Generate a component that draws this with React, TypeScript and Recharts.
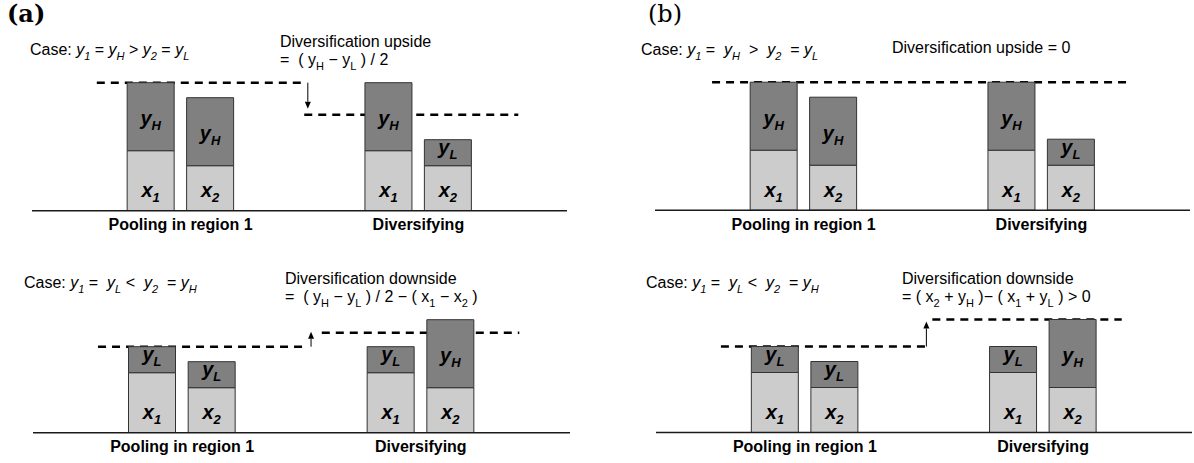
import React from 'react';
import { BarChart, Bar, XAxis, YAxis, ReferenceLine, LabelList } from 'recharts';

const W = 1194;
const H = 463;
const Y_MAX = 140;
const XAXIS_H = 30;
const FONT = '"Liberation Sans", Arial, Helvetica, sans-serif';
const SERIF = '"DejaVu Serif", "Liberation Serif", serif';

// ---- data ----
const barSlots = [2, 3, 6, 7];
const xSubs = ['1', '2', '1', '2'];
const xValues = [60, 45, 60, 45];
const ySubsUpside = ['H', 'H', 'H', 'L'];
const yValuesUpside = [68, 68, 68, 26];
const ySubsDownside = ['L', 'L', 'L', 'H'];
const yValuesDownside = [26, 26, 26, 68];
const groupTicks = [2.5, 6.5];
const groupLabels = ['Pooling in region 1', 'Diversifying'];

// dashed reference levels (from/to in slot units, level in value units)
const dashesAUp = [
  { from: 1.09, to: 4.58, level: 128 },
  { from: 4.58, to: 8.18, level: 96 },
];
const arrowsAUp = [{ at: 4.64, from: 128, to: 102 }];
const dashesADown = [
  { from: 1.09, to: 4.53, level: 86 },
  { from: 4.84, to: 8.15, level: 100 },
];
const arrowsADown = [{ at: 4.66, from: 86, to: 101 }];
const dashesBUp = [{ from: 0.96, to: 8.02, level: 128 }];
const arrowsBUp: { at: number; from: number; to: number }[] = [];
const dashesBDown = [
  { from: 1.09, to: 4.56, level: 86 },
  { from: 4.64, to: 7.82, level: 113 },
];
const arrowsBDown = [{ at: 4.54, from: 86, to: 111 }];

const buildRows = (yv: number[], ys: string[]) =>
  barSlots.map((slot, i) => ({ slot, x: xValues[i], y: yv[i], xs: xSubs[i], ys: ys[i] }));

const getBox = (p: any) => {
  const vb = p.viewBox || {};
  return {
    x: vb.x ?? p.x,
    y: vb.y ?? p.y,
    w: vb.width ?? p.width,
    h: vb.height ?? p.height,
  };
};

const BarLabel = (letter: string, isX: boolean) => (p: any) => {
  const { x, y, w, h } = getBox(p);
  if (x == null || y == null) return null;
  const cx = x + w / 2;
  const base = isX ? y + h - 13.5 : y + 0.67 * h - 3;
  return (
    <text
      x={cx}
      y={base}
      textAnchor="middle"
      fontFamily={FONT}
      fontWeight="bold"
      fontStyle="italic"
      fill="#000"
    >
      <tspan fontSize={20}>{letter}</tspan>
      <tspan fontSize={13} dy={5}>
        {p.value}
      </tspan>
    </text>
  );
};

const ArrowShape = (props: any) => {
  const { x1, y1, x2, y2 } = props;
  const dir = y2 > y1 ? 1 : -1;
  const head = 7;
  return (
    <g>
      <line x1={x1} y1={y1} x2={x2} y2={y2 - dir * head} stroke="#000" strokeWidth={1} />
      <polygon
        points={`${x2},${y2} ${x2 - 3},${y2 - dir * head} ${x2 + 3},${y2 - dir * head}`}
        fill="#000"
      />
    </g>
  );
};

type PanelProps = {
  axisStart: number;
  axisEnd: number;
  baseline: number;
  rows: any[];
  dashes: { from: number; to: number; level: number }[];
  arrows: { at: number; from: number; to: number }[];
};

const Panel = ({ axisStart, axisEnd, baseline, rows, dashes, arrows }: PanelProps) => {
  const margin = {
    top: baseline - Y_MAX,
    left: axisStart,
    right: W - axisEnd,
    bottom: H - baseline - XAXIS_H,
  };
  return (
    <>
      {/* reference lines, underneath the bars */}
      <div style={{ position: 'absolute', left: 0, top: 0 }}>
        <BarChart width={W} height={H} data={rows} margin={margin}>
          <XAxis
            type="number"
            dataKey="slot"
            domain={[0, 9]}
            allowDataOverflow
            tick={false}
            tickLine={false}
            axisLine={false}
            height={XAXIS_H}
          />
          <YAxis type="number" domain={[0, Y_MAX]} hide width={0} allowDataOverflow />
          {dashes.map((d, i) => (
            <ReferenceLine
              key={'d' + i}
              segment={[
                { x: d.from, y: d.level },
                { x: d.to, y: d.level },
              ]}
              stroke="#000"
              strokeWidth={2.6}
              strokeDasharray="8 6"
            />
          ))}
          {arrows.map((a, i) => (
            <ReferenceLine
              key={'a' + i}
              segment={[
                { x: a.at, y: a.from },
                { x: a.at, y: a.to },
              ]}
              stroke="#000"
              shape={ArrowShape}
            />
          ))}
        </BarChart>
      </div>
      {/* bars and axis on top */}
      <div style={{ position: 'absolute', left: 0, top: 0 }}>
        <BarChart width={W} height={H} data={rows} margin={margin}>
          <XAxis
            type="number"
            dataKey="slot"
            domain={[0, 9]}
            ticks={groupTicks}
            interval={0}
            allowDataOverflow
            tickFormatter={(v: number) => groupLabels[groupTicks.indexOf(v)] ?? ''}
            tickLine={false}
            tickSize={0}
            tickMargin={8}
            height={XAXIS_H}
            axisLine={{ stroke: '#1a1a1a', strokeWidth: 1.5 }}
            tick={{ fill: '#000', fontSize: 16, fontWeight: 'bold', fontFamily: FONT }}
          />
          <YAxis type="number" domain={[0, Y_MAX]} hide width={0} allowDataOverflow />
          <Bar
            dataKey="x"
            stackId="s"
            fill="#cccccc"
            stroke="#333333"
            strokeWidth={1}
            barSize={47}
            isAnimationActive={false}
          >
            <LabelList dataKey="xs" content={BarLabel('x', true)} />
          </Bar>
          <Bar
            dataKey="y"
            stackId="s"
            fill="#808080"
            stroke="#333333"
            strokeWidth={1}
            barSize={47}
            isAnimationActive={false}
          >
            <LabelList dataKey="ys" content={BarLabel('y', false)} />
          </Bar>
        </BarChart>
      </div>
    </>
  );
};

type Part = [string, string?];

const Rich = ({
  x,
  y,
  parts,
  size = 16,
  sub = 11,
  subDy = 5,
}: {
  x: number;
  y: number;
  parts: Part[];
  size?: number;
  sub?: number;
  subDy?: number;
}) => {
  let down = false;
  const spans = parts.map(([t, f = ''], k) => {
    const isSub = f.includes('s');
    let dy = 0;
    if (isSub && !down) {
      dy = subDy;
      down = true;
    } else if (!isSub && down) {
      dy = -subDy;
      down = false;
    }
    return (
      <tspan
        key={k}
        dy={dy}
        fontSize={isSub ? sub : size}
        fontStyle={f.includes('i') ? 'italic' : 'normal'}
      >
        {t}
      </tspan>
    );
  });
  return (
    <text x={x} y={y} fontFamily={FONT} fontSize={size} fill="#000" style={{ whiteSpace: 'pre' }}>
      {spans}
    </text>
  );
};

const caseAUp: Part[] = [
  ['Case: '], ['y', 'i'], ['1', 'si'], [' = '], ['y', 'i'], ['H', 'si'], [' > '],
  ['y', 'i'], ['2', 'si'], [' = '], ['y', 'i'], ['L', 'si'],
];
const caseADown: Part[] = [
  ['Case: '], ['y', 'i'], ['1', 'si'], [' =  '], ['y', 'i'], ['L', 'si'], [' <  '],
  ['y', 'i'], ['2', 'si'], ['  = '], ['y', 'i'], ['H', 'si'],
];
const caseBUp: Part[] = [
  ['Case: '], ['y', 'i'], ['1', 'si'], [' =  '], ['y', 'i'], ['H', 'si'], ['  >  '],
  ['y', 'i'], ['2', 'si'], ['  = '], ['y', 'i'], ['L', 'si'],
];
const caseBDown: Part[] = [
  ['Case: '], ['y', 'i'], ['1', 'si'], [' =  '], ['y', 'i'], ['L', 'si'], [' <  '],
  ['y', 'i'], ['2', 'si'], ['  = '], ['y', 'i'], ['H', 'si'],
];
const formulaAUp: Part[] = [['=  ( y'], ['H', 's'], [' \u2212 y'], ['L', 's'], [' ) / 2']];
const formulaADown: Part[] = [
  ['=  ( y'], ['H', 's'], [' \u2212 y'], ['L', 's'], [' ) / 2 \u2212 ( x'], ['1', 's'],
  [' \u2212 x'], ['2', 's'], [' )'],
];
const formulaBDown: Part[] = [
  ['= ( x'], ['2', 's'], [' + y'], ['H', 's'], [' )\u2212 ( x'], ['1', 's'], [' + y'], ['L', 's'],
  [' ) > 0'],
];

const Overlay = () => (
  <svg
    width={W}
    height={H}
    style={{ position: 'absolute', left: 0, top: 0, pointerEvents: 'none' }}
  >
    <text x={7} y={22} fontFamily={SERIF} fontWeight="bold" fontSize={24} fill="#000">
      (a)
    </text>
    <text x={648} y={22} fontFamily={SERIF} fontSize={24} fill="#000">
      (b)
    </text>

    <Rich x={30} y={55} parts={caseAUp} />
    <Rich x={280} y={47} parts={[['Diversification upside']]} />
    <Rich x={280} y={65} parts={formulaAUp} />

    <Rich x={24} y={288} parts={caseADown} />
    <Rich x={285} y={284} parts={[['Diversification downside']]} />
    <Rich x={285} y={302} parts={formulaADown} />

    <Rich x={641} y={55} parts={caseBUp} />
    <Rich x={892} y={53} parts={[['Diversification upside = 0']]} />

    <Rich x={646} y={288} parts={caseBDown} />
    <Rich x={902} y={284} parts={[['Diversification downside']]} />
    <Rich x={902} y={302} parts={formulaBDown} />
  </svg>
);

export default function App() {
  return (
    <div style={{ position: 'absolute', left: 0, top: 0, width: W, height: H, background: '#fff' }}>
      <Panel
        axisStart={32}
        axisEnd={567}
        baseline={210.7}
        rows={buildRows(yValuesUpside, ySubsUpside)}
        dashes={dashesAUp}
        arrows={arrowsAUp}
      />
      <Panel
        axisStart={33}
        axisEnd={570}
        baseline={432.7}
        rows={buildRows(yValuesDownside, ySubsDownside)}
        dashes={dashesADown}
        arrows={arrowsADown}
      />
      <Panel
        axisStart={655}
        axisEnd={1190}
        baseline={210.2}
        rows={buildRows(yValuesUpside, ySubsUpside)}
        dashes={dashesBUp}
        arrows={arrowsBUp}
      />
      <Panel
        axisStart={656}
        axisEnd={1192}
        baseline={432.5}
        rows={buildRows(yValuesDownside, ySubsDownside)}
        dashes={dashesBDown}
        arrows={arrowsBDown}
      />
      <Overlay />
    </div>
  );
}
